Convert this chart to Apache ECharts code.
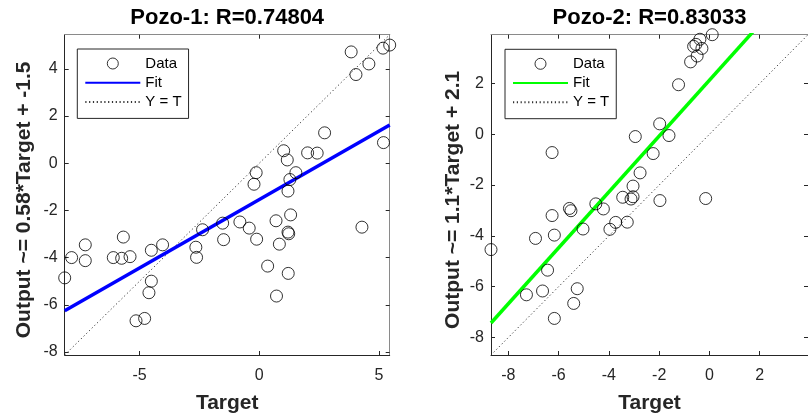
<!DOCTYPE html>
<html>
<head>
<meta charset="utf-8">
<script src="https://cdn.jsdelivr.net/npm/echarts@6/dist/echarts.min.js"></script>
<style>
html,body{margin:0;padding:0;background:#fff;}
#chart{width:808px;height:419px;}
</style>
</head>
<body>
<div id="chart"></div>
<script>
// ---- Data ----
const titles = ['Pozo-1: R=0.74804', 'Pozo-2: R=0.83033'];
const yNames = ['Output ~= 0.58*Target + -1.5', 'Output ~= 1.1*Target + 2.1'];
const xName = 'Target';
const legendNames = ['Data', 'Fit', 'Y = T'];

const target1 = [-8.13,-7.84,-7.27,-7.27,-6.10,-5.75,-5.68,-5.40,-5.15,-4.79,-4.61,-4.51,-4.51,-4.04,-2.65,-2.62,-2.37,-1.53,-1.49,-0.81,-0.42,-0.22,-0.13,-0.11,0.35,0.70,0.72,0.84,1.02,1.17,1.20,1.21,1.20,1.23,1.28,1.31,1.53,2.02,2.42,2.73,3.84,4.04,4.29,4.58,5.17,5.19,5.45];
const output1 = [-4.86,-4.00,-3.46,-4.13,-4.00,-4.03,-3.13,-3.96,-6.68,-6.58,-5.49,-5.00,-3.69,-3.46,-3.56,-3.99,-2.82,-2.54,-3.24,-2.49,-2.75,-0.89,-0.40,-3.22,-4.36,-2.44,-5.63,-3.43,0.53,0.14,-1.18,-4.67,-2.92,-2.99,-0.69,-2.19,-0.40,0.44,0.43,1.29,4.72,3.76,-2.71,4.21,4.88,0.875,5.01];

const target2 = [-8.69,-7.28,-6.92,-6.64,-6.44,-6.26,-6.26,-6.17,-6.17,-5.57,-5.51,-5.40,-5.26,-5.03,-4.52,-4.22,-3.96,-3.73,-3.45,-3.27,-3.12,-3.04,-3.04,-2.95,-2.76,-2.24,-1.98,-1.97,-1.61,-1.23,-0.75,-0.63,-0.54,-0.49,-0.38,-0.30,-0.15,0.11];
const output2 = [-4.54,-6.32,-4.10,-6.17,-5.35,-0.72,-3.20,-7.25,-3.97,-2.92,-3.01,-6.66,-6.08,-3.73,-2.74,-2.94,-3.74,-3.47,-2.48,-3.46,-2.55,-2.46,-2.04,-0.09,-1.52,-0.76,0.41,-2.61,-0.05,1.95,2.85,3.46,3.54,3.08,3.74,3.38,-2.53,3.92];

// fit coefficients [slope, intercept]
const fit1 = [0.58, -1.54];
const fit2 = [1.1, 2.13];
// axis limits [min, max] (same for target and output)
const lim1 = [-8.13, 5.45];
const lim2 = [-8.69, 3.92];
// tick values
const xTicks1 = [-5, 0, 5];
const yTicks1 = [-8, -6, -4, -2, 0, 2, 4];
const xTicks2 = [-8, -6, -4, -2, 0, 2];
const yTicks2 = [-8, -6, -4, -2, 0, 2];

// ---- Build ----
const FONT = "'Liberation Sans', Arial, sans-serif";
const DARK = '#262626';
const LIGHT = '#8a8a8a';

function pairs(xs, ys) { return xs.map((x, i) => [x, ys[i]]); }
function fitLine(lim, f) { return [[lim[0], f[0]*lim[0] + f[1]], [lim[1], f[0]*lim[1] + f[1]]]; }
function idLine(lim) { return [[lim[0], lim[0]], [lim[1], lim[1]]]; }

const grids = [
  {left: 64.7, top: 34.7, width: 325, height: 325},
  {left: 491, top: 34.7, width: 327, height: 325}
];

function mainX(gi, lim, ticks) {
  return {
    type: 'value', gridIndex: gi, position: 'bottom', min: lim[0], max: lim[1],
    name: xName, nameLocation: 'middle', nameGap: 38,
    nameTextStyle: {fontFamily: FONT, fontWeight: 'bold', fontSize: 21, color: DARK},
    axisLine: {show: true, onZero: false, lineStyle: {color: DARK, width: 1}},
    axisTick: {show: true, inside: true, length: 4, customValues: ticks, lineStyle: {color: DARK}},
    axisLabel: {show: true, customValues: ticks, margin: 13, fontFamily: FONT, fontSize: 16, color: DARK},
    splitLine: {show: false}
  };
}
function topX(gi, lim, ticks, title) {
  return {
    type: 'value', gridIndex: gi, position: 'top', min: lim[0], max: lim[1],
    name: title, nameLocation: 'middle', nameGap: 6,
    nameTextStyle: {fontFamily: FONT, fontWeight: 'bold', fontSize: 22, color: '#000'},
    axisLine: {show: true, onZero: false, lineStyle: {color: LIGHT, width: 1}},
    axisTick: {show: true, inside: true, length: 4, customValues: ticks, lineStyle: {color: DARK}},
    axisLabel: {show: false},
    splitLine: {show: false}
  };
}
function mainY(gi, lim, ticks, name, gap) {
  return {
    type: 'value', gridIndex: gi, position: 'left', min: lim[0], max: lim[1],
    name: name, nameLocation: 'middle', nameGap: gap,
    nameTextStyle: {fontFamily: FONT, fontWeight: 'bold', fontSize: 21, color: DARK, padding: [0, 10, 0, 0]},
    axisLine: {show: true, onZero: false, lineStyle: {color: DARK, width: 1}},
    axisTick: {show: true, inside: true, length: 4, customValues: ticks, lineStyle: {color: DARK}},
    axisLabel: {show: true, customValues: ticks, margin: 7, fontFamily: FONT, fontSize: 16, color: DARK},
    splitLine: {show: false}
  };
}
function rightY(gi, lim, ticks) {
  return {
    type: 'value', gridIndex: gi, position: 'right', min: lim[0], max: lim[1],
    axisLine: {show: true, onZero: false, lineStyle: {color: LIGHT, width: 1}},
    axisTick: {show: true, inside: true, length: 4, customValues: ticks, lineStyle: {color: DARK}},
    axisLabel: {show: false},
    splitLine: {show: false}
  };
}

function seriesFor(idx, xs, ys, fit, lim, fitColor, suffix) {
  return [
    {
      name: legendNames[0] + suffix, type: 'scatter', xAxisIndex: idx*2, yAxisIndex: idx*2,
      data: pairs(xs, ys), symbol: 'circle', symbolSize: 12, clip: false,
      itemStyle: {color: 'rgba(0,0,0,0)', borderColor: '#000', borderWidth: 1},
      emphasis: {disabled: true}, z: 3
    },
    {
      name: legendNames[1] + suffix, type: 'line', xAxisIndex: idx*2, yAxisIndex: idx*2,
      data: fitLine(lim, fit), symbol: 'none', clip: true,
      lineStyle: {color: fitColor, width: 3.5}, itemStyle: {color: fitColor},
      emphasis: {disabled: true}, z: 2
    },
    {
      name: legendNames[2] + suffix, type: 'line', xAxisIndex: idx*2, yAxisIndex: idx*2,
      data: idLine(lim), symbol: 'none', clip: true,
      lineStyle: {color: '#333', width: 1, type: [1.2, 2.6]}, itemStyle: {color: '#333'},
      emphasis: {disabled: true}, z: 1
    }
  ];
}

function legendFor(left, top, suffix) {
  const hidden = {opacity: 0, color: 'rgba(0,0,0,0)', borderWidth: 0};
  return {
    orient: 'vertical', left: left, top: top,
    data: [
      {name: legendNames[0] + suffix, itemStyle: {color: 'rgba(0,0,0,0)', borderColor: '#000', borderWidth: 1}},
      {name: legendNames[1] + suffix, itemStyle: hidden},
      {name: legendNames[2] + suffix, itemStyle: hidden}
    ],
    formatter: (n) => n.replace(/ #2$/, ''),
    itemWidth: 55, itemHeight: 11, itemGap: 4.2,
    padding: [7, 7, 9, 7],
    backgroundColor: '#fff', borderColor: DARK, borderWidth: 1, borderRadius: 0,
    selectedMode: false,
    textStyle: {fontFamily: FONT, fontSize: 15, color: '#000', lineHeight: 15}
  };
}

const option = {
  animation: false,
  backgroundColor: '#fff',
  grid: grids,
  xAxis: [
    mainX(0, lim1, xTicks1), topX(0, lim1, xTicks1, titles[0]),
    mainX(1, lim2, xTicks2), topX(1, lim2, xTicks2, titles[1])
  ],
  yAxis: [
    mainY(0, lim1, yTicks1, yNames[0], 30), rightY(0, lim1, yTicks1),
    mainY(1, lim2, yTicks2, yNames[1], 27), rightY(1, lim2, yTicks2)
  ],
  legend: [legendFor(77.3, 49, ''), legendFor(505, 49.3, ' #2')],
  series: [].concat(
    seriesFor(0, target1, output1, fit1, lim1, '#0000ff', ''),
    seriesFor(1, target2, output2, fit2, lim2, '#00ff00', ' #2')
  )
};

const chart = echarts.init(document.getElementById('chart'), null, {renderer: 'canvas'});
chart.setOption(option);
</script>
</body>
</html>
